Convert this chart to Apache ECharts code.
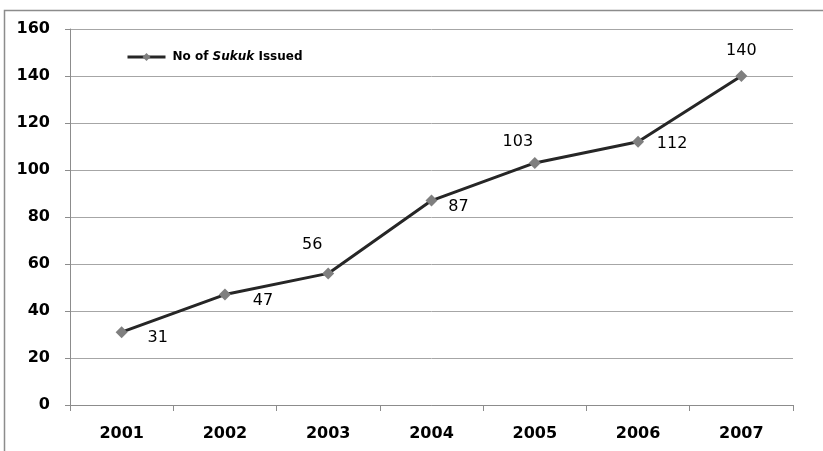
<!DOCTYPE html>
<html>
<head>
<meta charset="utf-8">
<script src="https://cdn.jsdelivr.net/npm/echarts@6/dist/echarts.min.js"></script>
<style>
  html, body { margin: 0; padding: 0; background: #fff; }
  #chart { width: 823px; height: 451px; }
</style>
</head>
<body>
<div id="chart"></div>
<script>
// Number of sukuk issued per year
const years = ['2001', '2002', '2003', '2004', '2005', '2006', '2007'];
const issued = [31, 47, 56, 87, 103, 112, 140];
// pixel shift of each value label's centre from its point
const labelShift = [[36, 6], [38, 6], [-16, -29], [27, 6], [-17, -21], [34, 2], [0, -25]];

const AXIS_FONT = '"DejaVu Sans", sans-serif';
const SYMBOL = 12;

const chart = echarts.init(document.getElementById('chart'));
chart.setOption({
  animation: false,
  backgroundColor: '#fff',
  graphic: [{
    type: 'polyline',
    shape: { points: [[4.5, 460], [4.5, 10.5], [830, 10.5]] },
    style: { stroke: '#8c8c8c', lineWidth: 1.5, fill: null },
    silent: true
  }],
  grid: { left: 70, right: 30, top: 29, bottom: 46 },
  legend: {
    left: 121, top: 46,
    itemWidth: 38, itemHeight: 10,
    itemGap: 6,
    data: ['series'],
    lineStyle: { width: 3, color: '#262626' },
    formatter: () => '{b|No of }{i|Sukuk}{b| Issued}',
    textStyle: {
      padding: [0, 0, 0, 2],
      rich: {
        b: { fontFamily: AXIS_FONT, fontWeight: 'bold', fontSize: 12, color: '#000' },
        i: { fontFamily: AXIS_FONT, fontWeight: 'bold', fontStyle: 'italic', fontSize: 12, color: '#000' }
      }
    }
  },
  xAxis: {
    type: 'category',
    data: years,
    boundaryGap: true,
    axisLine: { lineStyle: { color: '#8c8c8c', width: 1 } },
    axisTick: { show: true, length: 6, lineStyle: { color: '#8c8c8c' } },
    axisLabel: { fontFamily: AXIS_FONT, fontWeight: 'bold', fontSize: 16, color: '#000', margin: 21 }
  },
  yAxis: {
    type: 'value',
    min: 0, max: 160, interval: 20,
    axisLine: { show: true, lineStyle: { color: '#8c8c8c', width: 1 } },
    axisTick: { show: true, length: 5, lineStyle: { color: '#8c8c8c' } },
    axisLabel: { fontFamily: AXIS_FONT, fontWeight: 'bold', fontSize: 16, color: '#000', margin: 20 },
    splitLine: { lineStyle: { color: '#a6a6a6', width: 1 } }
  },
  series: [{
    name: 'series',
    type: 'line',
    data: issued.map((v, i) => ({
      value: v,
      label: {
        show: true,
        position: [SYMBOL / 2 + labelShift[i][0], SYMBOL / 2 + labelShift[i][1]],
        align: 'center',
        verticalAlign: 'middle'
      }
    })),
    symbol: 'diamond',
    symbolSize: SYMBOL,
    itemStyle: { color: '#7f7f7f' },
    lineStyle: { color: '#262626', width: 3 },
    label: { fontFamily: AXIS_FONT, fontSize: 16, color: '#000' }
  }]
});
</script>
</body>
</html>
